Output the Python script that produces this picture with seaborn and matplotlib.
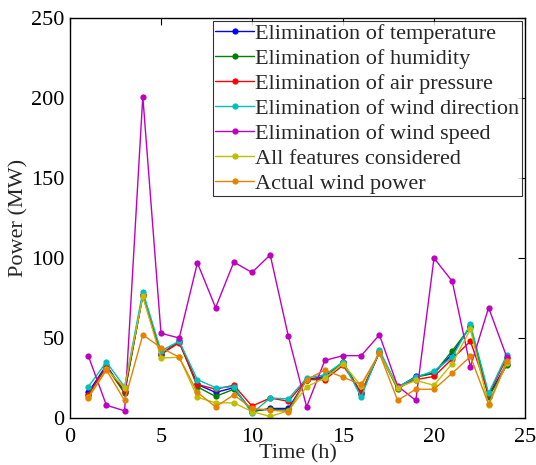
import numpy as np
import pandas as pd
import seaborn as sns
import matplotlib
matplotlib.use("Agg")
import matplotlib.pyplot as plt

hours = list(range(1, 25))
temperature = [16, 33, 16, 77, 40, 48, 21, 16, 19, 4, 6, 6, 24, 26, 35, 15, 41, 19, 26, 28, 40, 57.5, 14, 34]
humidity = [14.5, 32, 15.5, 76.5, 39.5, 48, 19.5, 13.5, 18, 4.5, 5.5, 5, 24, 25, 35, 15.5, 41, 18, 25.5, 28, 42, 57, 13, 33]
air_pressure = [14.5, 32, 17, 77, 40, 47, 21, 18, 20.5, 7.5, 12.5, 10.5, 24, 24, 33, 16, 41, 19, 24, 26, 37, 48, 15, 37.5]
wind_direction = [19.5, 35, 19.5, 79, 42, 48, 24, 19, 19.5, 3, 12.5, 12, 25, 27, 35, 13, 42.5, 19.5, 25.5, 29.5, 38, 58.5, 15.5, 39.5]
wind_speed = [39, 8, 4.5, 201, 53, 50, 97, 69, 97.5, 91, 102, 51, 7, 36, 39, 39, 52, 20, 11, 100, 85.5, 32, 69, 38]
all_features = [13, 30.5, 19, 76, 37.5, 38, 13, 9.5, 9.5, 4, 1, 4.5, 19.5, 25, 34, 20, 40.5, 19, 23.5, 20.5, 34, 55.5, 8, 34.5]
actual = [12.5, 30, 11, 52, 44, 38, 16, 7, 14.5, 6, 5, 4, 24, 30, 25.5, 21, 40.5, 11, 18, 18, 28, 38.5, 8.5, 35.5]

names = ["Elimination of temperature", "Elimination of humidity", "Elimination of air pressure",
         "Elimination of wind direction", "Elimination of wind speed", "All features considered",
         "Actual wind power"]
series = [temperature, humidity, air_pressure, wind_direction, wind_speed, all_features, actual]
colors = ["#0000ff", "#008000", "#ff0000", "#00bfbf", "#bf00bf", "#bfbf00", "#e58200"]

df = pd.concat([pd.DataFrame({"Time": hours, "Power": v, "Series": n}) for n, v in zip(names, series)],
               ignore_index=True)

sns.set_style("white")
plt.rcParams['font.family'] = ['Liberation Serif', 'DejaVu Serif']
plt.rcParams['mathtext.fontset'] = 'stix'

fig = plt.figure(figsize=(5.36, 4.65), dpi=100)
ax = fig.add_axes([0.1306, 0.101, 0.8489, 0.860])

sns.lineplot(data=df, x="Time", y="Power", hue="Series", hue_order=names,
             palette=dict(zip(names, colors)), marker="o", markersize=4.5,
             markeredgewidth=0, linewidth=1.0, ax=ax, sort=False)

ax.set_xlim(0, 25)
ax.set_ylim(0, 250)
ax.set_xticks([0, 5, 10, 15, 20, 25])
ax.set_yticks([0, 50, 100, 150, 200, 250])
ax.tick_params(direction="in", top=True, right=True, labelsize=16, length=5, width=0.8, colors="black")
ax.tick_params(axis="x", pad=7)
ax.tick_params(axis="y", pad=4)
for s in ax.spines.values():
    s.set_color("black")
    s.set_linewidth(1.0)
ax.set_xlabel("Time (h)", fontsize=16, labelpad=-2)
ax.set_ylabel("Power (MW)", fontsize=16, labelpad=2)

leg = ax.legend(loc="upper right", fontsize=16, frameon=True, fancybox=False,
                edgecolor="black", borderpad=0.1, labelspacing=0.2, handlelength=1.75,
                handletextpad=0.05, borderaxespad=0.15)
leg.get_frame().set_linewidth(0.8)

fig.savefig("out.png", dpi=100)
